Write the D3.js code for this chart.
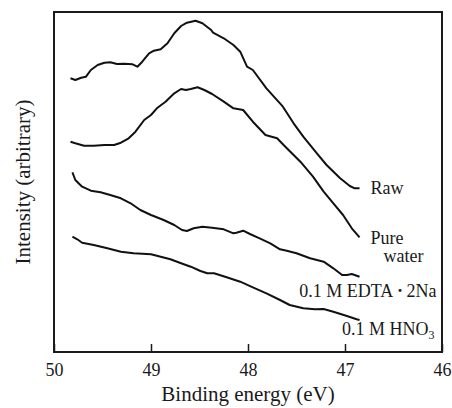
<!DOCTYPE html>
<html>
<head>
<meta charset="utf-8">
<script src="https://cdn.jsdelivr.net/npm/d3@7"></script>
<style>
  body { margin: 0; background: #fff; }
  text { font-family: "Liberation Serif", "Times New Roman", serif; fill: #1a1a1a; }
</style>
</head>
<body>
<div id="wrapper"></div>
<script>
// binding energy (eV) and intensity (arbitrary units)
const rawX = [49.83, 49.78, 49.72, 49.67, 49.62, 49.55, 49.48, 49.42, 49.35, 49.28, 49.19, 49.14, 49.09, 49.02, 48.97, 48.90, 48.83, 48.76, 48.69, 48.63, 48.54, 48.47, 48.38, 48.36, 48.25, 48.15, 48.08, 48.01, 47.95, 47.81, 47.64, 47.53, 47.43, 47.29, 47.19, 47.05, 46.95, 46.90, 46.85];
const rawY = [273.7, 272, 274.3, 275.3, 282, 287, 289.3, 289.7, 288, 288.3, 287.7, 285.3, 290.3, 298.7, 301.3, 302.7, 308.7, 318.7, 326, 329.3, 331.3, 328.7, 322, 319.3, 313.7, 307, 300.3, 285.3, 282, 263.7, 245.3, 228.7, 215.3, 198.7, 187, 173.7, 166, 163.7, 163.7];

const waterX = [49.83, 49.78, 49.69, 49.59, 49.48, 49.38, 49.31, 49.23, 49.16, 49.07, 49.00, 48.94, 48.85, 48.76, 48.69, 48.64, 48.59, 48.52, 48.45, 48.37, 48.25, 48.15, 48.05, 47.95, 47.82, 47.70, 47.60, 47.46, 47.33, 47.22, 47.12, 47.02, 46.93, 46.85];
const waterY = [210.3, 208.7, 206.3, 206.3, 207, 207, 209.3, 213.7, 220.3, 232, 237, 243.7, 250.3, 258.7, 263, 262, 263, 264.7, 262, 258, 250.3, 243.7, 242, 230.3, 217, 213.7, 203.7, 190.3, 175.3, 160.3, 148.7, 137, 123.7, 114.7];

const edtaX = [49.81, 49.78, 49.71, 49.62, 49.52, 49.42, 49.31, 49.21, 49.11, 49.00, 48.87, 48.76, 48.68, 48.63, 48.56, 48.47, 48.37, 48.25, 48.15, 48.12, 48.05, 47.98, 47.88, 47.77, 47.67, 47.60, 47.50, 47.36, 47.22, 47.12, 47.03, 46.98, 46.93, 46.85];
const edtaY = [179.7, 172, 165.3, 161.3, 159.7, 157, 153.7, 148.7, 142, 137, 132, 127, 122, 121, 123.7, 125.3, 124.3, 122.7, 118.7, 119.3, 121.3, 118, 113.7, 108.7, 102.7, 101.3, 98.7, 93.7, 90.3, 83.7, 77, 77, 78, 75.3];

const hno3X = [49.81, 49.76, 49.71, 49.59, 49.45, 49.31, 49.18, 49.00, 48.90, 48.80, 48.69, 48.59, 48.49, 48.42, 48.35, 48.22, 48.08, 47.95, 47.81, 47.67, 47.57, 47.43, 47.31, 47.22, 47.12, 46.98, 46.88, 46.85];
const hno3Y = [115.3, 112.7, 109.3, 107, 103.7, 100.3, 98.7, 97.7, 95.3, 92.7, 88.7, 85.3, 81, 78.7, 78.7, 74.7, 70.3, 64.7, 58.7, 52, 47, 43.7, 42.7, 43, 40.3, 36, 32.7, 32];

const xTicks = [50, 49, 48, 47, 46];
const xTitle = 'Binding energy (eV)';
const yTitle = 'Intensity (arbitrary)';

const series = [
  {name: 'Raw', x: rawX, y: rawY},
  {name: 'Pure water', x: waterX, y: waterY},
  {name: '0.1 M EDTA\u00B72Na', x: edtaX, y: edtaY},
  {name: '0.1 M HNO3', x: hno3X, y: hno3Y}
];

const W = 452, H = 408;
const plot = {left: 54, right: 442, top: 12, bottom: 352};

const svg = d3.select('#wrapper')
  .append('svg')
  .attr('width', W)
  .attr('height', H);

const x = d3.scaleLinear().domain([50, 46]).range([plot.left, plot.right]);
const y = d3.scaleLinear().domain([0, 340]).range([plot.bottom, plot.top]);

// x axis, ticks pointing inward
const gx = svg.append('g')
  .attr('transform', `translate(0,${plot.bottom})`)
  .call(d3.axisBottom(x).tickValues(xTicks).tickFormat(d3.format('d'))
    .tickSizeInner(-8).tickSizeOuter(0).tickPadding(11));
gx.select('.domain').remove();
gx.selectAll('.tick line').attr('stroke', '#1a1a1a').attr('stroke-width', 1.5);
gx.selectAll('.tick text').attr('font-size', 18).attr('font-family', '"Liberation Serif", serif').attr('fill', '#1a1a1a');

// frame
svg.append('rect')
  .attr('x', plot.left)
  .attr('y', plot.top)
  .attr('width', plot.right - plot.left)
  .attr('height', plot.bottom - plot.top)
  .attr('fill', 'none')
  .attr('stroke', '#1a1a1a')
  .attr('stroke-width', 2);

const line = d3.line()
  .x(d => x(d[0]))
  .y(d => y(d[1]));

svg.selectAll('path.spec')
  .data(series)
  .join('path')
  .attr('class', 'spec')
  .attr('d', s => line(d3.zip(s.x, s.y)))
  .attr('fill', 'none')
  .attr('stroke', '#111')
  .attr('stroke-width', 2)
  .attr('stroke-linejoin', 'round');

// labels next to each curve end
const endOf = s => [x(s.x[s.x.length - 1]), y(s.y[s.y.length - 1])];

let p = endOf(series[0]);
svg.append('text').attr('x', p[0] + 11).attr('y', p[1] + 6)
  .attr('font-size', 18).text('Raw');

p = endOf(series[1]);
svg.append('text').attr('x', p[0] + 11).attr('y', p[1] + 7)
  .attr('font-size', 18).text('Pure');
svg.append('text').attr('x', p[0] + 24).attr('y', p[1] + 25)
  .attr('font-size', 18).text('water');

p = endOf(series[2]);
const t3 = svg.append('text').attr('x', p[0] + 77).attr('y', p[1] + 20)
  .attr('text-anchor', 'end').attr('font-size', 18);
t3.append('tspan').text('0.1 M EDTA\u2009');
t3.append('tspan').attr('font-weight', 'bold').text('\u00B7');
t3.append('tspan').text('\u20092Na');

p = endOf(series[3]);
const t4 = svg.append('text').attr('x', p[0] + 75).attr('y', p[1] + 15)
  .attr('text-anchor', 'end').attr('font-size', 18);
t4.append('tspan').text('0.1 M HNO');
t4.append('tspan').attr('font-size', 12).attr('dy', 4).text('3');

// axis titles
svg.append('text')
  .attr('x', (plot.left + plot.right) / 2)
  .attr('y', 401)
  .attr('text-anchor', 'middle')
  .attr('font-size', 21)
  .text(xTitle);

svg.append('text')
  .attr('transform', `translate(30,${(plot.top + plot.bottom) / 2}) rotate(-90)`)
  .attr('text-anchor', 'middle')
  .attr('font-size', 21)
  .text(yTitle);
</script>
</body>
</html>
